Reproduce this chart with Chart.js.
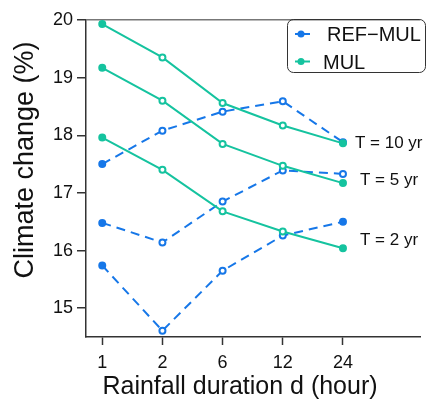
<!DOCTYPE html>
<html>
<head>
<meta charset="utf-8">
<script src="https://cdn.jsdelivr.net/npm/chart.js@4.4.0/dist/chart.umd.min.js"></script>
<style>
  body { margin: 0; background: #fff; }
  #wrap { width: 426px; height: 400px; }
</style>
</head>
<body>
<div id="wrap"><canvas id="chart" width="426" height="400"></canvas></div>
<script>
// durations (hours) shown on the x axis
const durations = ['1', '2', '6', '12', '24'];
const yTicks = [15, 16, 17, 18, 19, 20];

// MUL, per return period
const mul10 = [19.93, 19.35, 18.56, 18.17, 17.86];
const mul5 = [19.17, 18.60, 17.85, 17.47, 17.17];
const mul2 = [17.96, 17.40, 16.68, 16.33, 16.04];

// REF-MUL, per return period
const ref10 = [17.50, 18.08, 18.41, 18.59, 17.88];
const ref5 = [16.48, 16.14, 16.85, 17.39, 17.33];
const ref2 = [15.74, 14.61, 15.65, 16.26, 16.50];

const periodLabels = ['T = 10 yr', 'T = 5 yr', 'T = 2 yr'];
const periodLabelAt = [17.86, 17.22, 16.18];

const BLUE = '#1677e8';
const GREEN = '#15c39f';
const FONT = '"Liberation Sans", Arial, Helvetica, sans-serif';

const toPoints = vals => vals.map((v, i) => ({ x: i, y: v }));

// first point filled, middle ones hollow, last one filled unless told otherwise
const fills = (color, lastFilled = true) =>
    durations.map((d, i) => (i === 0 || (i === durations.length - 1 && lastFilled)) ? color : '#fff');

const mulSet = vals => ({
    data: toPoints(vals),
    borderColor: GREEN,
    borderWidth: 2,
    pointRadius: 3,
    pointBorderWidth: 2,
    pointBorderColor: GREEN,
    pointBackgroundColor: fills(GREEN),
    tension: 0
});

const refSet = (vals, lastFilled) => ({
    data: toPoints(vals),
    borderColor: BLUE,
    borderWidth: 2,
    borderDash: [9, 6],
    pointRadius: 3,
    pointBorderWidth: 2,
    pointBorderColor: BLUE,
    pointBackgroundColor: fills(BLUE, lastFilled),
    tension: 0
});

// labels, legend box and axis titles
const overlay = {
    id: 'overlay',
    afterDraw(chart) {
        const { ctx } = chart;
        const x = chart.scales.x;
        const y = chart.scales.y;
        ctx.save();

        // return period labels next to the last duration
        ctx.font = '17px ' + FONT;
        ctx.fillStyle = '#111';
        ctx.textAlign = 'left';
        ctx.textBaseline = 'middle';
        const xEnd = x.getPixelForValue(durations.length - 1);
        periodLabels.forEach((t, i) => {
            ctx.fillText(t, xEnd + (i === 0 ? 12 : 17), y.getPixelForValue(periodLabelAt[i]));
        });

        // legend
        ctx.strokeStyle = '#333';
        ctx.lineWidth = 1;
        ctx.beginPath();
        ctx.roundRect(287.5, 19.5, 138, 53, 6);
        ctx.stroke();
        const entries = [
            { label: 'REF\u2212MUL', color: BLUE, y: 34, tx: 327 },
            { label: 'MUL', color: GREEN, y: 61.5, tx: 323 }
        ];
        entries.forEach(e => {
            ctx.strokeStyle = e.color;
            ctx.lineWidth = 2;
            ctx.beginPath();
            ctx.moveTo(295, e.y);
            ctx.lineTo(310, e.y);
            ctx.stroke();
            ctx.fillStyle = e.color;
            ctx.beginPath();
            ctx.arc(301, e.y, 3.5, 0, Math.PI * 2);
            ctx.fill();
            ctx.fillStyle = '#111';
            ctx.font = '20px ' + FONT;
            ctx.textBaseline = 'alphabetic';
            ctx.fillText(e.label, e.tx, e.y + 7.2);
        });

        // axis titles
        ctx.fillStyle = '#111';
        ctx.textAlign = 'center';
        ctx.textBaseline = 'alphabetic';
        ctx.font = '25px ' + FONT;
        ctx.fillText('Rainfall duration d (hour)', 240, 394);

        ctx.translate(33, 160);
        ctx.rotate(-Math.PI / 2);
        ctx.font = '27px ' + FONT;
        ctx.fillText('Climate change (%)', 0, 0);

        ctx.restore();
    }
};

new Chart(document.getElementById('chart'), {
    type: 'line',
    data: {
        datasets: [
            mulSet(mul10), mulSet(mul5), mulSet(mul2),
            refSet(ref10, true), refSet(ref5, false), refSet(ref2, true)
        ]
    },
    options: {
        responsive: false,
        animation: false,
        layout: { padding: { top: 20, right: 0, left: 0, bottom: 0 } },
        plugins: {
            legend: { display: false },
            tooltip: { enabled: false }
        },
        scales: {
            x: {
                type: 'linear',
                min: -0.27,
                max: 5.28,
                afterBuildTicks: s => { s.ticks = durations.map((d, i) => ({ value: i })); },
                afterFit: s => { s.height = 63; },
                ticks: {
                    callback: v => durations[v],
                    color: '#111',
                    font: { family: FONT, size: 18 },
                    padding: 7,
                    maxRotation: 0
                },
                grid: { drawOnChartArea: false, tickLength: 8, tickColor: '#333', tickWidth: 1.5 },
                border: { color: '#333', width: 1.5 }
            },
            y: {
                min: 14.5,
                max: 20,
                afterBuildTicks: s => { s.ticks = yTicks.map(v => ({ value: v })); },
                afterFit: s => { s.width = 86; },
                ticks: {
                    color: '#111',
                    font: { family: FONT, size: 18 },
                    padding: 4
                },
                grid: {
                    color: c => (c.tick && c.tick.value === 20) ? '#777' : 'rgba(0,0,0,0)',
                    lineWidth: 1.5,
                    tickLength: 9,
                    tickColor: '#333',
                    tickWidth: 1.5
                },
                border: { color: '#333', width: 1.5 }
            }
        }
    },
    plugins: [overlay]
});
</script>
</body>
</html>
